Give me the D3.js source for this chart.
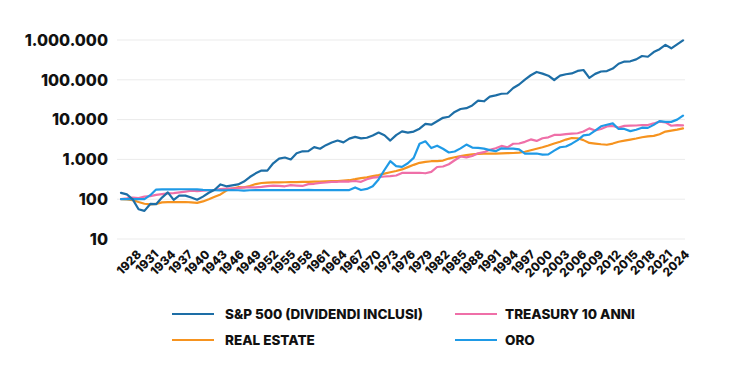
<!DOCTYPE html>
<html>
<head>
<meta charset="utf-8">
<script src="https://cdn.jsdelivr.net/npm/d3@7"></script>
<style>
  html, body { margin: 0; padding: 0; background: #fff; }
  svg { display: block; font-family: Inter, "Noto Sans", sans-serif; }
  .grid line { stroke: #ebebeb; stroke-width: 1; }
  .ylab { font-size: 16px; font-weight: 800; fill: #111; }
  .xlab { font-size: 12px; font-weight: 800; fill: #111; }
  .leg { font-size: 13.5px; font-weight: 800; fill: #111; }
  .series { fill: none; stroke-width: 2.2; stroke-linejoin: round; stroke-linecap: round; }
</style>
</head>
<body>
<div id="chart"></div>
<script>
// Growth of 100 invested, 1928–2024 (log scale)
const years = d3.range(1928, 2025);

const sp500 = [
  144, 132, 99, 56, 51, 76, 75, 110, 148, 96,
  124, 123, 110, 97, 116, 145, 173, 235, 211, 222,
  235, 277, 361, 447, 526, 523, 798, 1049, 1115, 995,
  1427, 1598, 1605, 2035, 1856, 2279, 2654, 2985, 2685, 3317,
  3676, 3363, 3493, 3990, 4739, 4044, 2974, 4080, 5053, 4690,
  4998, 5919, 7838, 7453, 9049, 11086, 11781, 15570, 18446, 19411,
  22674, 29813, 28869, 37687, 40573, 44662, 45252, 62085, 76166, 101377,
  130107, 157285, 143081, 126955, 98840, 126871, 137959, 144650, 167261, 176427,
  111942, 140978, 161871, 165270, 191532, 253110, 287331, 291297, 325582, 395940,
  379192, 497538, 587194, 754369, 618281, 779405, 974412
];

const realEstate = [
  101, 99, 95, 85, 77, 74, 76, 83, 84, 85,
  84, 85, 83, 81, 88, 100, 115, 132, 165, 185,
  200, 198, 215, 240, 255, 262, 265, 265, 267, 268,
  270, 272, 274, 276, 278, 281, 283, 285, 292, 300,
  318, 340, 355, 380, 405, 440, 475, 510, 560, 640,
  730, 820, 870, 900, 905, 935, 1050, 1130, 1210, 1280,
  1340, 1380, 1390, 1390, 1400, 1420, 1440, 1450, 1480, 1560,
  1700, 1850, 2020, 2240, 2510, 2780, 3150, 3450, 3400, 3050,
  2600, 2500, 2400, 2330, 2500, 2780, 2950, 3150, 3350, 3600,
  3800, 3900, 4300, 5000, 5300, 5600, 6000
];

const treasury = [
  101, 105, 110, 107, 116, 119, 128, 134, 140, 142,
  148, 155, 163, 160, 164, 168, 172, 179, 184, 186,
  190, 198, 199, 199, 203, 212, 219, 216, 211, 225,
  220, 215, 239, 244, 258, 263, 272, 274, 282, 278,
  287, 273, 318, 349, 359, 372, 380, 394, 457, 462,
  459, 462, 448, 485, 644, 664, 756, 950, 1181, 1122,
  1214, 1429, 1518, 1746, 1910, 2181, 2006, 2476, 2512, 2762,
  3174, 2912, 3397, 3586, 4128, 4144, 4330, 4454, 4542, 5005,
  6011, 5343, 5795, 6724, 6924, 6294, 6971, 7060, 7109, 7308,
  7306, 8010, 8918, 8524, 7004, 7276, 7157
];

const gold = [
  100, 100, 100, 100, 100, 126, 175, 176, 176, 176,
  178, 178, 178, 176, 172, 170, 168, 166, 168, 170,
  168, 165, 168, 170, 170, 170, 170, 170, 170, 170,
  170, 170, 172, 170, 170, 170, 170, 170, 170, 170,
  198, 170, 181, 211, 314, 542, 905, 677, 651, 798,
  1093, 2477, 2853, 1923, 2211, 1850, 1492, 1582, 1891, 2354,
  1984, 1940, 1868, 1709, 1611, 1895, 1854, 1872, 1786, 1404,
  1391, 1404, 1319, 1338, 1658, 2019, 2107, 2482, 3058, 4034,
  4208, 5261, 6800, 7407, 8050, 5827, 5835, 5128, 5544, 6272,
  6200, 7368, 9132, 8737, 8768, 9978, 12627
];

const yTicks = [10, 100, 1000, 10000, 100000, 1000000];
const xTicks = years.filter((y, i) => i % 3 === 0);

const seriesNames = ['REAL ESTATE', 'TREASURY 10 ANNI', 'ORO', 'S&P 500 (DIVIDENDI INCLUSI)'];
const seriesValues = [realEstate, treasury, gold, sp500];
const COLOR = {
  'S&P 500 (DIVIDENDI INCLUSI)': '#1d6ea6',
  'TREASURY 10 ANNI': '#ef6fa8',
  'REAL ESTATE': '#f6931f',
  'ORO': '#1f9ae6',
};

const W = 736, H = 376;
const svg = d3.select('#chart').append('svg').attr('width', W).attr('height', H);

const x = d3.scalePoint().domain(years).range([121, 683]);
// tick labels sit on a slightly shorter span than the data in the original
const xLab = d3.scaleLinear().domain([1928, 2024]).range([136, 684]);
const y = d3.scaleLog().domain([10, 1000000]).range([239, 40]);

// Grid
const gridG = svg.append('g').attr('class', 'grid');
gridG.selectAll('line').data(yTicks).enter().append('line')
  .attr('x1', 117).attr('x2', 685)
  .attr('y1', d => y(d)).attr('y2', d => y(d));

// Y labels (Italian thousands separator)
const fmt = d3.formatLocale({ decimal: ',', thousands: '.', grouping: [3], currency: ['€', ''] }).format(',d');
svg.append('g').selectAll('text').data(yTicks).enter().append('text')
  .attr('class', 'ylab')
  .attr('x', 108).attr('y', d => y(d))
  .attr('dy', '0.36em')
  .attr('text-anchor', 'end')
  .text(d => fmt(d));

// X labels, rotated
svg.append('g').selectAll('text').data(xTicks).enter().append('text')
  .attr('class', 'xlab')
  .attr('text-anchor', 'end')
  .attr('transform', d => `translate(${xLab(d)},${249}) rotate(-45)`)
  .attr('dy', '0.72em')
  .text(d => d);

// Lines
const line = d3.line().x((d, i) => x(years[i])).y(d => y(d));
svg.append('g').selectAll('path').data(seriesNames).enter().append('path')
  .attr('class', 'series')
  .attr('stroke', d => COLOR[d])
  .attr('d', (d, i) => line(seriesValues[i]));

// Legend: two columns, two rows
const legendItems = [
  { name: 'S&P 500 (DIVIDENDI INCLUSI)', col: 0, row: 0 },
  { name: 'TREASURY 10 ANNI', col: 1, row: 0 },
  { name: 'REAL ESTATE', col: 0, row: 1 },
  { name: 'ORO', col: 1, row: 1 },
];
const legG = svg.append('g');
legendItems.forEach((it) => {
  const lx = it.col === 0 ? 172 : 455;
  const tx = it.col === 0 ? 225 : 505;
  const ly = it.row === 0 ? 314 : 340;
  legG.append('line')
    .attr('x1', lx).attr('x2', lx + 42)
    .attr('y1', ly).attr('y2', ly)
    .attr('stroke', COLOR[it.name]).attr('stroke-width', 2);
  legG.append('text')
    .attr('class', 'leg')
    .attr('x', tx).attr('y', ly)
    .attr('dy', '0.36em')
    .text(it.name);
});
</script>
</body>
</html>
